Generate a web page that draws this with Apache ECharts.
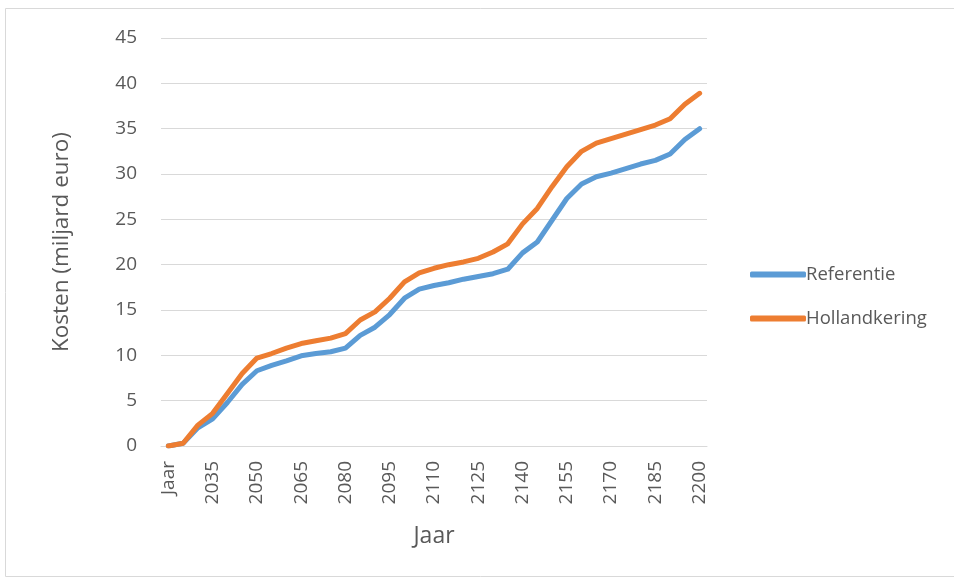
<!DOCTYPE html>
<html>
<head>
<meta charset="utf-8">
<script src="https://cdn.jsdelivr.net/npm/echarts@6/dist/echarts.min.js"></script>
<style>
  html, body { margin: 0; padding: 0; background: #fff; }
  #chart { width: 954px; height: 579px; }
</style>
</head>
<body>
<div id="chart"></div>
<script>
// jaren: eerste categorie heet "Jaar", daarna stappen van 5 jaar
var jaren = ['Jaar'];
for (var j = 2025; j <= 2200; j += 5) jaren.push(String(j));

var referentie = [0, 0.3, 2.0, 3.0, 4.8, 6.8, 8.3, 8.9, 9.4, 9.95,
  10.2, 10.4, 10.8, 12.2, 13.1, 14.5, 16.3, 17.3, 17.7, 18.0,
  18.4, 18.7, 19.0, 19.5, 21.3, 22.5, 24.9, 27.3, 28.9, 29.7,
  30.1, 30.6, 31.1, 31.5, 32.2, 33.8, 35.0];

var hollandkering = [0, 0.3, 2.3, 3.6, 5.8, 8.0, 9.7, 10.2, 10.8, 11.3,
  11.6, 11.9, 12.4, 13.9, 14.8, 16.3, 18.1, 19.1, 19.6, 20.0,
  20.3, 20.7, 21.4, 22.3, 24.5, 26.2, 28.6, 30.8, 32.5, 33.4,
  33.9, 34.4, 34.9, 35.4, 36.1, 37.7, 38.9];

var font = 'Open Sans';
var grijs = '#595959';

var myChart = echarts.init(document.getElementById('chart'));
var option = {
  animation: false,
  textStyle: { fontFamily: font },
  graphic: [{
    type: 'rect',
    shape: { x: 5.5, y: 8.5, width: 960, height: 568 },
    style: { fill: 'none', stroke: '#d9d9d9', lineWidth: 1 },
    silent: true
  }],
  grid: { left: 161, right: 247, top: 38, bottom: 133 },
  legend: {
    orient: 'vertical',
    left: 745,
    top: 260,
    icon: 'roundRect',
    itemWidth: 56,
    itemHeight: 6,
    itemGap: 25,
    textStyle: { fontSize: 18.5, color: grijs, fontFamily: font, padding: [0, 0, 0, -5] },
    data: ['Referentie', 'Hollandkering']
  },
  xAxis: {
    type: 'category',
    boundaryGap: true,
    data: jaren,
    name: 'Jaar',
    nameLocation: 'middle',
    nameGap: 79,
    nameTextStyle: { fontSize: 23, color: grijs },
    axisLine: { lineStyle: { color: '#d9d9d9' } },
    axisTick: { show: false },
    axisLabel: {
      interval: 2,
      rotate: 90,
      fontSize: 19,
      color: grijs,
      margin: 15
    }
  },
  yAxis: {
    type: 'value',
    min: 0,
    max: 45,
    interval: 5,
    name: 'Kosten (miljard euro)',
    nameLocation: 'middle',
    nameGap: 88,
    nameTextStyle: { fontSize: 22.5, color: grijs },
    axisLine: { show: false },
    axisTick: { show: false },
    axisLabel: { fontSize: 19, color: grijs, margin: 24 },
    splitLine: { lineStyle: { color: '#d9d9d9', width: 1 } }
  },
  series: [
    {
      name: 'Referentie',
      type: 'line',
      data: referentie,
      symbol: 'none',
      lineStyle: { color: '#5B9BD5', width: 5, cap: 'round', join: 'round' },
      itemStyle: { color: '#5B9BD5' }
    },
    {
      name: 'Hollandkering',
      type: 'line',
      data: hollandkering,
      symbol: 'none',
      lineStyle: { color: '#ED7D31', width: 5, cap: 'round', join: 'round' },
      itemStyle: { color: '#ED7D31' }
    }
  ]
};
myChart.setOption(option);
</script>
</body>
</html>
